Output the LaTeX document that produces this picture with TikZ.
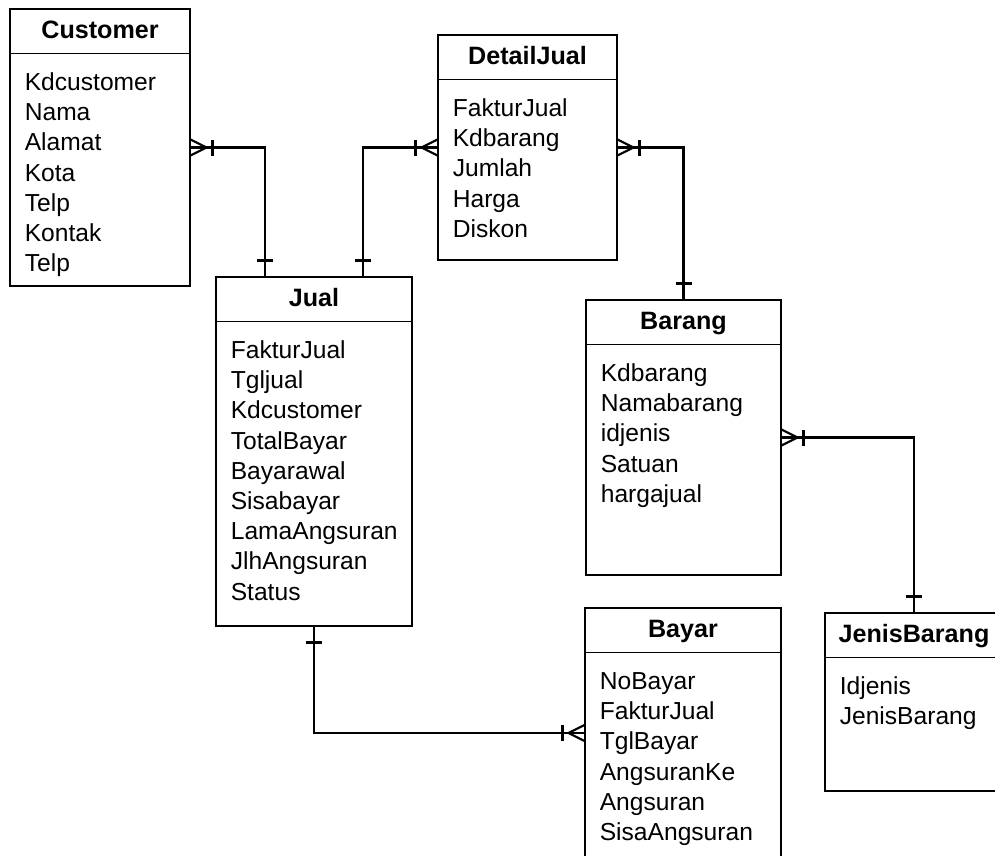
\documentclass[tikz,border=0pt]{standalone}
\usepackage{fontspec}
\setmainfont{Liberation Sans}
\usetikzlibrary{calc,fit,positioning}
\tikzstyle{entity}=[draw,line width=0.6pt,inner sep=0pt]
\tikzstyle{sepline}=[draw,line width=0.6pt]
\tikzstyle{head}=[font=\fontsize{14.3}{17}\selectfont\bfseries,anchor=base,inner sep=0pt]
\tikzstyle{field}=[font=\fontsize{14}{17}\selectfont,anchor=base west,inner sep=0pt]
\tikzstyle{rel}=[draw,line width=1.2pt]

% box: name, corners, title, attributes
\newcommand{\entitybox}[7]{%
  \node[entity, fit={(#2,#3) (#4,#5)}] (#1) {};
  \node[head] (#1-h) at ($(#1.north)+(0,30)$) {#6};
  \path[sepline] ($(#1.north west)+(0,45)$) -- ($(#1.north east)+(0,45)$);
  \foreach \f [count=\i from 0] in {#7}
    \node[field] (#1-\i) at ($(#1.north west)+(15,82+\i*30.2)$) {\f};}
% crow's foot (many) and bar (one) at an anchor, direction #2/#3
\newcommand{\manymark}[3]{%
  \path[rel] ($(#1)+(#3*8,#2*8)$) -- ($(#1)+(#2*16,#3*16)$) -- ($(#1)-(#3*8,#2*8)$);
  \path[rel] ($(#1)+(#2*22,#3*22)+(#3*8,#2*8)$) -- ($(#1)+(#2*22,#3*22)-(#3*8,#2*8)$);}
\newcommand{\onemark}[3]{%
  \path[rel] ($(#1)+(#2*16,#3*16)+(#3*8,#2*8)$) -- ($(#1)+(#2*16,#3*16)-(#3*8,#2*8)$);}

\begin{document}
\begin{tikzpicture}[x=0.02cm,y=-0.02cm]
    \useasboundingbox (0,0) rectangle (995,856);
    \clip (0,0) rectangle (995,856);

    \entitybox{Customer}{10}{9}{190}{286}{Customer}{Kdcustomer,Nama,Alamat,Kota,Telp,Kontak,Telp}
    \entitybox{DetailJual}{438}{35}{617}{260}{DetailJual}{FakturJual,Kdbarang,Jumlah,Harga,Diskon}
    \entitybox{Jual}{216}{277}{412}{626}{Jual}{FakturJual,Tgljual,Kdcustomer,TotalBayar,Bayarawal,Sisabayar,LamaAngsuran,JlhAngsuran,Status}
    \entitybox{Barang}{586}{300}{781}{575}{Barang}{Kdbarang,Namabarang,idjenis,Satuan,hargajual}
    \entitybox{Bayar}{585}{608}{781}{858}{Bayar}{NoBayar,FakturJual,TglBayar,AngsuranKe,Angsuran,SisaAngsuran}
    \entitybox{JenisBarang}{825}{613}{1003}{791}{JenisBarang}{Idjenis,JenisBarang}

    \coordinate (JualL) at ($(Jual.north west)!0.25!(Jual.north east)$);
    \coordinate (JualR) at ($(Jual.north west)!0.75!(Jual.north east)$);

    % relations
    \path[rel] (Customer.east) -| (JualL);
    \path[rel] (DetailJual.west) -| (JualR);
    \path[rel] (DetailJual.east) -| (Barang.north);
    \path[rel] (Barang.east) -| (JenisBarang.north);
    \path[rel] (Jual.south) |- (Bayar.west);

    \manymark{Customer.east}{1}{0}
    \onemark{JualL}{0}{-1}
    \manymark{DetailJual.west}{-1}{0}
    \onemark{JualR}{0}{-1}
    \manymark{DetailJual.east}{1}{0}
    \onemark{Barang.north}{0}{-1}
    \manymark{Barang.east}{1}{0}
    \onemark{JenisBarang.north}{0}{-1}
    \onemark{Jual.south}{0}{1}
    \manymark{Bayar.west}{-1}{0}
\end{tikzpicture}
\end{document}
